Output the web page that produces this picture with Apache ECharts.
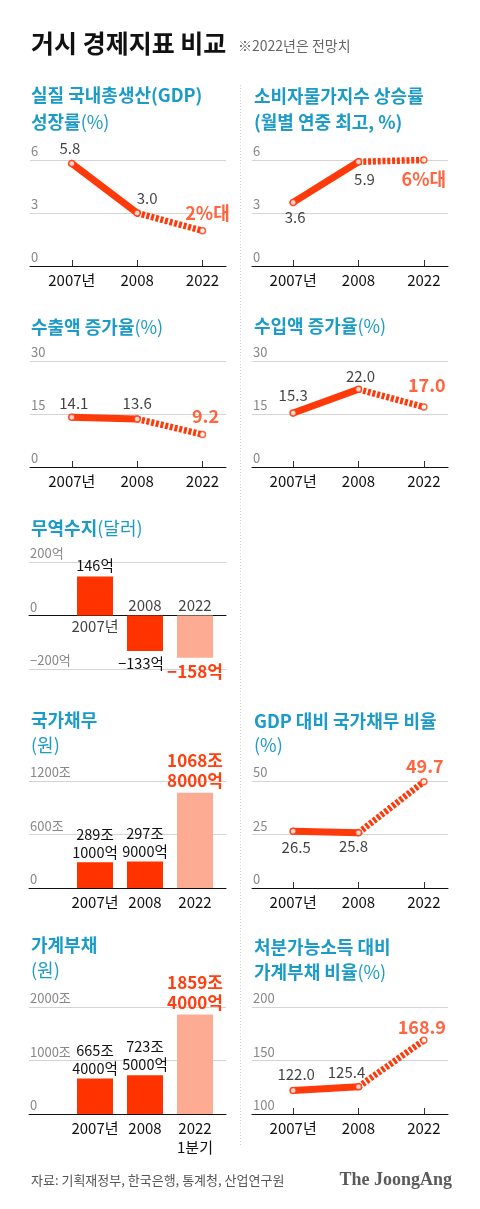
<!DOCTYPE html>
<html><head><meta charset="utf-8">
<script src="https://cdn.jsdelivr.net/npm/echarts@6/dist/echarts.min.js"></script>
<style>html,body{margin:0;padding:0;background:#fff}#c{width:480px;height:1209px}</style>
</head><body><div id="c"></div><script>
// ---------- data ----------
const years = ['2007년', '2008', '2022'];
const householdYears = ['2007년', '2008', '2022\n1분기'];

const gdpGrowth = [5.8, 3.0, 2.0];
const gdpGrowthLabels = ['5.8', '3.0', '2%대'];
const gdpTicks = [0, 3, 6];

const cpiRise = [3.6, 5.9, 6.0];
const cpiRiseLabels = ['3.6', '5.9', '6%대'];
const cpiTicks = [0, 3, 6];

const exportGrowth = [14.1, 13.6, 9.2];
const exportGrowthLabels = ['14.1', '13.6', '9.2'];
const exportTicks = [0, 15, 30];

const importGrowth = [15.3, 22.0, 17.0];
const importGrowthLabels = ['15.3', '22.0', '17.0'];
const importTicks = [0, 15, 30];

const tradeBalance = [146, -133, -158];
const tradeBalanceLabels = ['146억', '−133억', '−158억'];
const tradeTicks = [-200, 0, 200];
const tradeTickLabels = ['−200억', '0', '200억'];

const nationalDebt = [289.1, 297.9, 1068.8];
const nationalDebtLabels = ['289조\n1000억', '297조\n9000억', '1068조\n8000억'];
const nationalDebtTicks = [0, 600, 1200];
const nationalDebtTickLabels = ['0', '600조', '1200조'];

const debtToGdp = [26.5, 25.8, 49.7];
const debtToGdpLabels = ['26.5', '25.8', '49.7'];
const debtToGdpTicks = [0, 25, 50];

const householdDebt = [665.4, 723.5, 1859.4];
const householdDebtLabels = ['665조\n4000억', '723조\n5000억', '1859조\n4000억'];
const householdDebtTicks = [0, 1000, 2000];
const householdDebtTickLabels = ['0', '1000조', '2000조'];

const debtToIncome = [122.0, 125.4, 168.9];
const debtToIncomeLabels = ['122.0', '125.4', '168.9'];
const debtToIncomeTicks = [100, 150, 200];

// ---------- style ----------
const FONT = '"Noto Sans CJK KR", "Noto Sans", sans-serif';
const TEAL = '#1b9bc7';
const LINE_RED = '#ff3a0a';
const BAR_RED = '#ff3300';
const BAR_LIGHT = '#fdab93';
const TEXT_RED = '#ff3f0f';

const grids = [], xAxes = [], yAxes = [], series = [];
const LEFT_LINE = { left: 30, width: 196, xr: [-0.64, 2.36] };
const RIGHT_LINE = { left: 252, width: 196, xr: [-0.63, 2.37] };
const LEFT_BAR = { left: 29, width: 197, xr: [-1.32, 2.62] };

function addAxes(col, top, height, yTicks, yTickLabels, xLabels, opts) {
  const gi = grids.length;
  grids.push({ left: col.left, top: top, width: col.width, height: height });
  xAxes.push({
    gridIndex: gi, type: 'value', min: col.xr[0], max: col.xr[1],
    axisLine: { show: true, onZero: true, lineStyle: { color: '#111', width: 1 } },
    axisTick: { show: !!opts.ticks, inside: true, length: 6, customValues: [0, 1, 2], lineStyle: { color: '#333' } },
    axisLabel: { show: opts.xlabels !== false, customValues: [0, 1, 2], formatter: v => xLabels[Math.round(v)],
      margin: 5, fontSize: 15, color: '#111', fontFamily: FONT, lineHeight: 19 },
    splitLine: { show: false }
  });
  yAxes.push({
    gridIndex: gi, type: 'value', min: yTicks[0], max: yTicks[yTicks.length - 1], interval: yTicks[1] - yTicks[0],
    axisLine: { show: false, onZero: false }, axisTick: { show: false },
    axisLabel: { inside: true, margin: 1, align: 'left', verticalAlign: 'bottom', padding: [0, 0, 2, 0],
      fontSize: 13, color: '#888', fontFamily: FONT, showMinLabel: true, showMaxLabel: true,
      formatter: v => { const k = yTicks.indexOf(v); return k >= 0 ? String(yTickLabels[k]) : ''; } },
    splitLine: { show: true, lineStyle: { color: '#d4d4d4', width: 1 } }
  });
  return gi;
}

const normalLabel = { fontSize: 15, color: '#111', fontFamily: FONT };
const redLabel = { fontSize: 18, fontWeight: 'bold', color: TEXT_RED, fontFamily: FONT };

function addLinePanel(col, top, height, yTicks, values, labels, offsets) {
  const gi = addAxes(col, top, height, yTicks, yTicks, years, { ticks: true });
  series.push({ type: 'line', xAxisIndex: gi, yAxisIndex: gi, symbol: 'none', silent: true, z: 2,
    data: [[0, values[0]], [1, values[1]]], lineStyle: { color: LINE_RED, width: 7, cap: 'round' } });
  series.push({ type: 'line', xAxisIndex: gi, yAxisIndex: gi, symbol: 'none', silent: true, z: 2,
    data: [[1, values[1]], [2, values[2]]], lineStyle: { color: LINE_RED, width: 6.5, type: [3, 1.8], cap: 'butt' } });
  series.push({ type: 'scatter', xAxisIndex: gi, yAxisIndex: gi, symbolSize: 6, z: 3,
    itemStyle: { color: '#fff', borderColor: LINE_RED, borderWidth: 1.5 },
    data: values.map((v, i) => ({ value: [i, v],
      label: Object.assign({ show: true, position: 'inside', offset: offsets[i], formatter: labels[i] }, i === 2 ? redLabel : normalLabel) })) });
}

function addBarPanel(top, height, yTicks, yTickLabels, xLabels, values, labels, opts) {
  const gi = addAxes(LEFT_BAR, top, height, yTicks, yTickLabels, xLabels, { ticks: false, xlabels: opts.xlabels });
  series.push({ type: 'bar', xAxisIndex: gi, yAxisIndex: gi, barWidth: 36, z: 2,
    data: values.map((v, i) => ({ value: [i, v],
      itemStyle: { color: i === 2 ? BAR_LIGHT : BAR_RED },
      label: Object.assign({ show: true, position: v >= 0 ? 'top' : 'bottom', distance: opts.dist[i],
        offset: opts.offs ? opts.offs[i] : [0, 0], formatter: labels[i] },
        i === 2 ? Object.assign({ lineHeight: 20 }, redLabel, { fontSize: 17 }) : Object.assign({ lineHeight: 18 }, normalLabel, { fontSize: 14.5 })) })) });
  return gi;
}

// Row 1
addLinePanel(LEFT_LINE, 160, 106, gdpTicks, gdpGrowth, gdpGrowthLabels, [[-2, -15], [10, -15], [5, -18]]);
addLinePanel(RIGHT_LINE, 160, 106, cpiTicks, cpiRise, cpiRiseLabels, [[2, 15], [6, 18], [0, 19]]);
// Row 2
addLinePanel(LEFT_LINE, 361, 106, exportTicks, exportGrowth, exportGrowthLabels, [[2, -14], [0, -16], [3, -18]]);
addLinePanel(RIGHT_LINE, 361, 106, importTicks, importGrowth, importGrowthLabels, [[0, -18], [2, -13], [3, -22]]);
// Row 3 : trade balance
const tg = addBarPanel(562, 107, tradeTicks, tradeTickLabels, years, tradeBalance, tradeBalanceLabels,
  { xlabels: false, dist: [2, 3, 4], offs: [[0, 0], [-4, 0], [0, 0]] });
const yearLabelOffsets = [[0, 11], [0, -10], [0, -10]];
series.push({ type: 'scatter', xAxisIndex: tg, yAxisIndex: tg, symbolSize: 0, silent: true, z: 4,
  itemStyle: { color: 'rgba(0,0,0,0)' },
  data: years.map((y, i) => ({ value: [i, 0],
    label: Object.assign({ show: true, position: 'inside', offset: yearLabelOffsets[i], formatter: y }, normalLabel) })) });
// Row 4
addBarPanel(781, 107, nationalDebtTicks, nationalDebtTickLabels, years, nationalDebt, nationalDebtLabels,
  { dist: [1, 1, 2] });
addLinePanel(RIGHT_LINE, 781, 107, debtToGdpTicks, debtToGdp, debtToGdpLabels, [[3, 16], [-5, 14], [1, -15]]);
// Row 5
addBarPanel(1007, 107, householdDebtTicks, householdDebtTickLabels, householdYears, householdDebt, householdDebtLabels,
  { dist: [1, 2, 2] });
addLinePanel(RIGHT_LINE, 1007, 107, debtToIncomeTicks, debtToIncome, debtToIncomeLabels, [[3, -16], [-12, -15], [-2, -13]]);

// ---------- titles ----------
const titleRich = {
  b: { fontSize: 18, fontWeight: 'bold', fill: TEAL, fontFamily: FONT },
  r: { fontSize: 18, fontWeight: 'normal', fill: TEAL, fontFamily: FONT }
};
function titleText(x, y, text) {
  return { type: 'text', x: x, y: y, silent: true,
    style: { text: text, verticalAlign: 'middle', align: 'left', rich: titleRich, font: '18px ' + FONT } };
}
const graphics = [
  { type: 'text', x: 31, y: 43, silent: true,
    style: { text: '거시 경제지표 비교', fill: '#111', fontSize: 25, fontWeight: 'bold', fontFamily: FONT, verticalAlign: 'middle' } },
  { type: 'text', x: 238, y: 46, silent: true,
    style: { text: '※2022년은 전망치', fill: '#666', fontSize: 14, fontFamily: FONT, verticalAlign: 'middle' } },
  { type: 'line', silent: true, shape: { x1: 240.5, y1: 85, x2: 240.5, y2: 1147 },
    style: { stroke: '#cfcfcf', lineWidth: 1, lineDash: [1, 2] } },
  titleText(31, 95, '{b|실질 국내총생산(GDP)}'),
  titleText(31, 122, '{b|성장률}{r|(%)}'),
  titleText(254, 96, '{b|소비자물가지수 상승률}'),
  titleText(254, 122, '{b|(월별 연중 최고, %)}'),
  titleText(31, 327, '{b|수출액 증가율}{r|(%)}'),
  titleText(254, 326, '{b|수입액 증가율}{r|(%)}'),
  titleText(31, 528, '{b|무역수지}{r|(달러)}'),
  titleText(31, 720, '{b|국가채무}'),
  titleText(31, 745, '{r|(원)}'),
  titleText(254, 721, '{b|GDP 대비 국가채무 비율}'),
  titleText(254, 745, '{r|(%)}'),
  titleText(31, 945, '{b|가계부채}'),
  titleText(31, 970, '{r|(원)}'),
  titleText(254, 947, '{b|처분가능소득 대비}'),
  titleText(254, 972, '{b|가계부채 비율}{r|(%)}'),
  { type: 'text', x: 31, y: 1180, silent: true,
    style: { text: '자료: 기획재정부, 한국은행, 통계청, 산업연구원', fill: '#555', fontSize: 13, fontFamily: FONT, verticalAlign: 'middle' } },
  { type: 'text', x: 452, y: 1180, silent: true,
    style: { text: 'The JoongAng', fill: '#5a5a5a', fontSize: 18, fontWeight: 'bold', fontFamily: '"Liberation Serif", "DejaVu Serif", serif', align: 'right', verticalAlign: 'middle' } }
];

const chart = echarts.init(document.getElementById('c'));
chart.setOption({
  animation: false,
  backgroundColor: '#fff',
  textStyle: { fontFamily: FONT },
  grid: grids, xAxis: xAxes, yAxis: yAxes, series: series,
  graphic: graphics
});
</script></body></html>
